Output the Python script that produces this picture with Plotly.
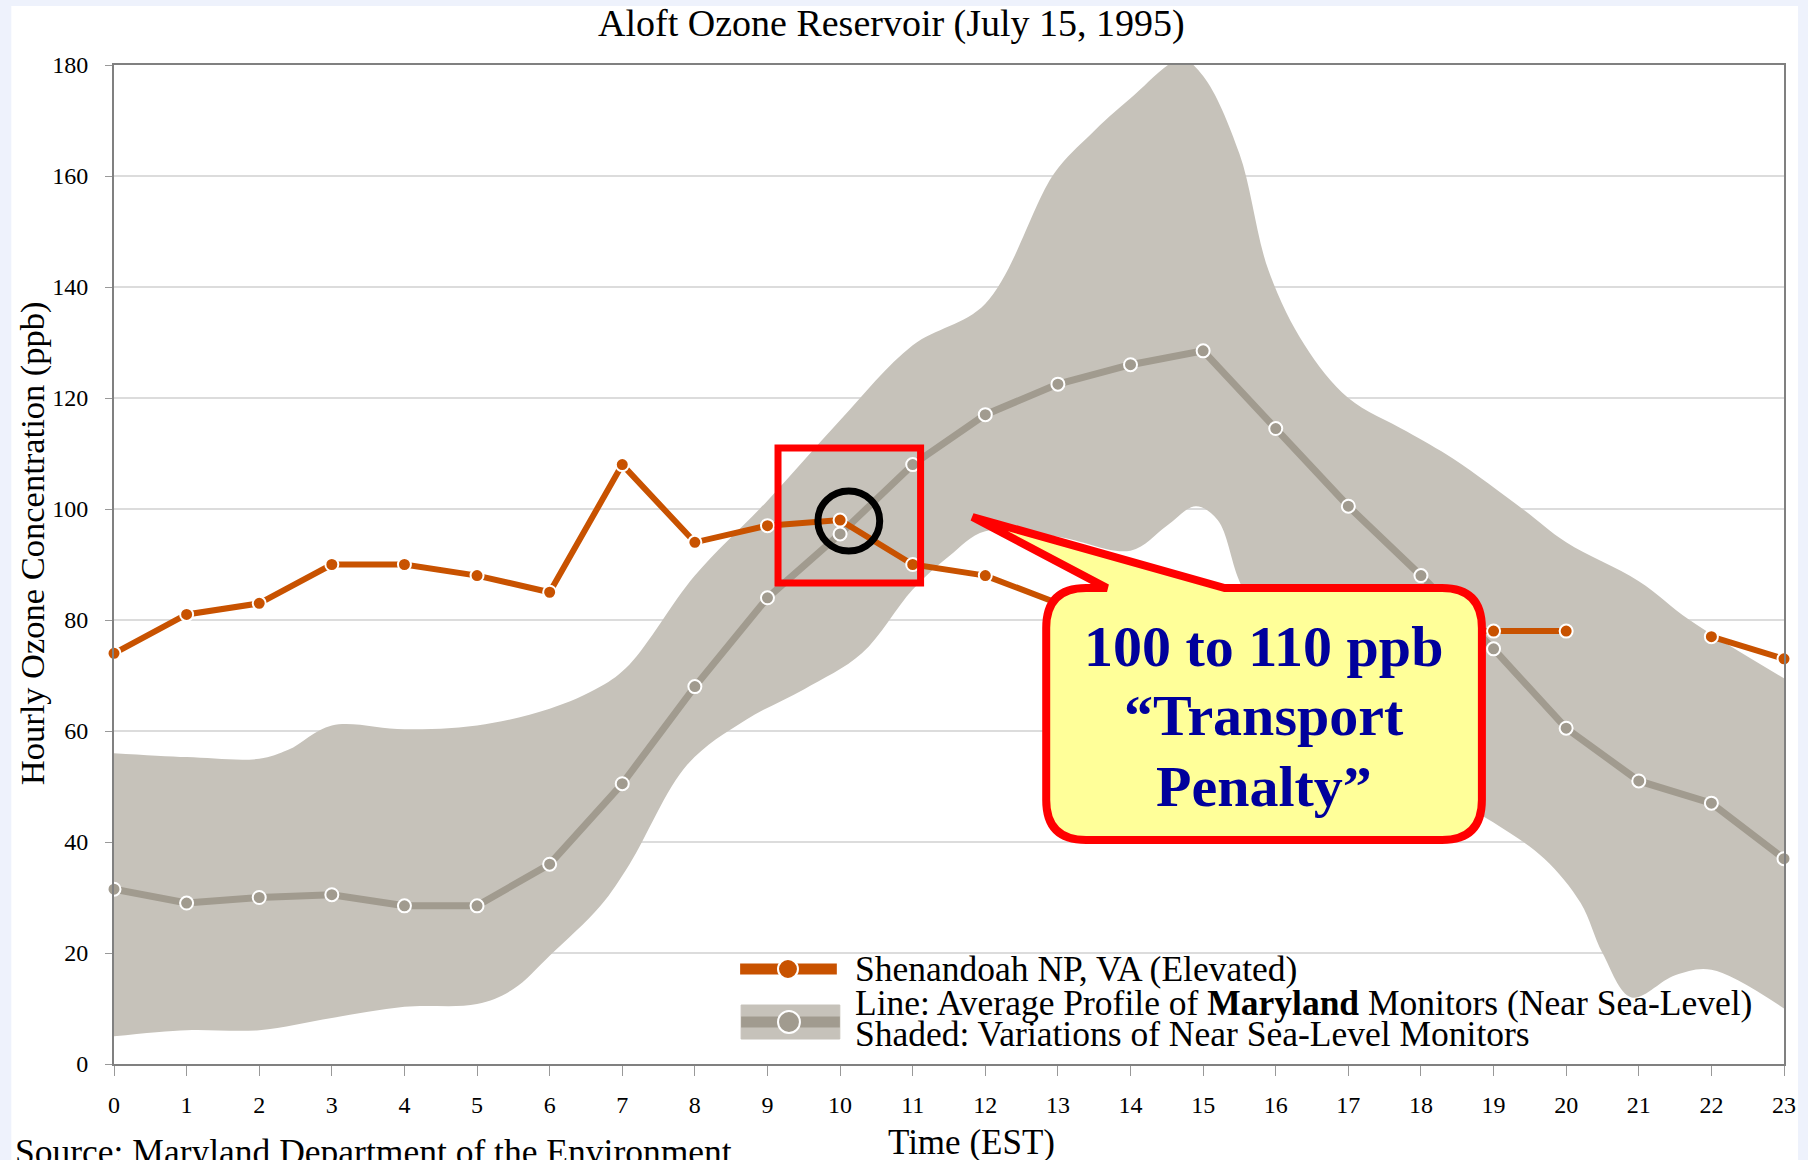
import plotly.graph_objects as go

# ---------------- data ----------------
hours = list(range(24))
tick_labels = [str(h) for h in hours]

shenandoah = [74, 81, 83, 90, 90, 88, 85, 108, 94, 97, 98, 90, 88, 83, 82, 80, 79, 78, 78,
              78, 78, None, 77, 73]

maryland_avg = [31.5, 29, 30, 30.5, 28.5, 28.5, 36, 50.5, 68, 84, 95.5, 108, 117, 122.5, 126,
                128.5, 114.5, 100.5, 88, 74.8, 60.5, 51, 47, 37]

band_upper_hours = [0, 1, 2, 2.4, 3, 4, 5, 6, 6.7, 7.1, 8, 9, 10, 11, 12, 12.95, 13.45, 14,
                    14.7, 15, 15.5, 15.9, 16.4, 17, 17.8, 18.45, 19.4, 20, 21, 21.7, 23]
band_upper = [56, 55.3, 55, 56.6, 61, 60.3, 61, 64, 68, 72, 88, 101.5, 116, 129.5, 137, 160.5,
              167.5, 174, 181, 178, 164, 143, 129.5, 120, 114, 109, 100, 94, 87, 80, 69.5]

band_lower_hours = [0, 1, 2, 3, 4, 5, 5.5, 6, 6.7, 7.1, 7.9, 8.7, 9.5, 10.3, 11, 11.5, 12, 13,
                    14, 14.5, 14.9, 15.2, 15.5, 16, 17, 18, 19, 19.7, 20.2, 20.5, 20.9, 21.5,
                    22, 23]
band_lower = [5, 6.1, 6.1, 8.3, 10.3, 10.8, 13.5, 19.5, 28.5, 36, 54, 62, 67.5, 74, 85.5, 91.5,
              96, 95, 92.5, 97, 100.5, 98, 87, 74, 61, 51, 43.5, 37, 29, 20, 12, 16, 17, 10]

# ---------------- geometry helpers (pixel -> paper) ----------------
W, H = 1808, 1160
L, R, T, B = 114, 1789, 65, 1064
PW, PH = R - L, B - T


def px(x):
    return (x - L) / PW


def py(y):
    return (B - y) / PH


ORANGE = "#C85200"
GRAYLINE = "#A19B8F"
BAND = "#C6C2BA"
LAVENDER = "#EEF2FC"
SERIF = "Liberation Serif"

fig = go.Figure()

# band (lower edge, then upper filled to it)
fig.add_trace(go.Scatter(x=band_lower_hours, y=band_lower, mode="lines",
                         line=dict(width=0, shape="spline", smoothing=1.0, color=BAND),
                         showlegend=False, hoverinfo="skip"))
fig.add_trace(go.Scatter(x=band_upper_hours, y=band_upper, mode="lines", fill="tonexty",
                         fillcolor=BAND,
                         line=dict(width=0, shape="spline", smoothing=1.0, color=BAND),
                         showlegend=False, hoverinfo="skip"))

fig.add_trace(go.Scatter(x=hours, y=maryland_avg, mode="lines+markers",
                         line=dict(color=GRAYLINE, width=7),
                         marker=dict(size=13, color=GRAYLINE, line=dict(color="white", width=2)),
                         cliponaxis=False, showlegend=False))
fig.add_trace(go.Scatter(x=hours, y=shenandoah, mode="lines+markers", connectgaps=False,
                         line=dict(color=ORANGE, width=6),
                         marker=dict(size=13, color=ORANGE, line=dict(color="white", width=2)),
                         cliponaxis=False, showlegend=False))

shapes = []
# white card behind everything
shapes.append(dict(type="rect", xref="paper", yref="paper", layer="below",
                   x0=px(11), x1=px(1803), y0=py(6), y1=py(1165),
                   fillcolor="white", line=dict(width=0)))

# red highlight box and black circle
shapes.append(dict(type="rect", xref="paper", yref="paper", layer="above",
                   x0=px(780), x1=px(923), y0=py(448), y1=py(583),
                   line=dict(color="#FF0000", width=7)))
shapes.append(dict(type="circle", xref="paper", yref="paper", layer="above",
                   x0=px(820), x1=px(882), y0=py(491), y1=py(551),
                   line=dict(color="black", width=7)))

# callout bubble
cl, cr, ct, cb, rr = 1049, 1486, 588, 840, 40
tip = (975, 517)
b1, b2 = 1110, 1228


def P(x, y):
    return f"{px(x):.5f},{py(y):.5f}"


path = (f"M {P(cl + rr, ct)} L {P(b1, ct)} L {P(*tip)} L {P(b2, ct)} L {P(cr - rr, ct)} "
        f"Q {P(cr, ct)} {P(cr, ct + rr)} L {P(cr, cb - rr)} Q {P(cr, cb)} {P(cr - rr, cb)} "
        f"L {P(cl + rr, cb)} Q {P(cl, cb)} {P(cl, cb - rr)} L {P(cl, ct + rr)} "
        f"Q {P(cl, ct)} {P(cl + rr, ct)} Z")
shapes.append(dict(type="path", xref="paper", yref="paper", layer="above", path=path,
                   fillcolor="#FFFF99", line=dict(color="#FF0000", width=8)))

# legend symbols
shapes.append(dict(type="line", xref="paper", yref="paper", layer="above",
                   x0=px(742), x1=px(839), y0=py(969), y1=py(969),
                   line=dict(color=ORANGE, width=11)))
shapes.append(dict(type="circle", xref="paper", yref="paper", layer="above",
                   x0=px(780), x1=px(800), y0=py(959), y1=py(979),
                   fillcolor=ORANGE, line=dict(color="white", width=2)))
shapes.append(dict(type="rect", xref="paper", yref="paper", layer="above",
                   x0=px(743), x1=px(842), y0=py(1005), y1=py(1039),
                   fillcolor=BAND, line=dict(color=BAND, width=1)))
shapes.append(dict(type="line", xref="paper", yref="paper", layer="above",
                   x0=px(743), x1=px(842), y0=py(1022), y1=py(1022),
                   line=dict(color=GRAYLINE, width=11)))
shapes.append(dict(type="circle", xref="paper", yref="paper", layer="above",
                   x0=px(780), x1=px(802), y0=py(1011), y1=py(1033),
                   fillcolor=GRAYLINE, line=dict(color="white", width=2)))

annotations = []


def ann(text, x, y, size, xanchor="left", yanchor="middle", color="black", textangle=0):
    annotations.append(dict(text=text, x=px(x), y=py(y), xref="paper", yref="paper",
                            xanchor=xanchor, yanchor=yanchor, showarrow=False,
                            textangle=textangle,
                            font=dict(family=SERIF, size=size, color=color)))


ann("Aloft Ozone Reservoir (July 15, 1995)", 894, 24, 38, xanchor="center")
ann("Hourly Ozone Concentration (ppb)", 32, 543, 34.5, xanchor="center", textangle=-90)
ann("Time (EST)", 974, 1143, 35, xanchor="center")
ann("Source: Maryland Department of the Environment", 13, 1152, 35.5)

ann("Shenandoah NP, VA (Elevated)", 855, 969, 35.5)
ann("Line: Average Profile of <b>Maryland</b> Monitors (Near Sea-Level)", 855, 1003, 35.5)
ann("Shaded: Variations of Near Sea-Level Monitors", 855, 1034, 35.5)

BLUE = "#00009C"
ann("<b>100 to 110 ppb</b>", 1267, 646, 58, xanchor="center", color=BLUE)
ann("<b>“Transport</b>", 1267, 715, 58, xanchor="center", color=BLUE)
ann("<b>Penalty”</b>", 1267, 786, 58, xanchor="center", color=BLUE)

fig.update_layout(
    width=W, height=H,
    margin=dict(l=L, r=W - R, t=T, b=H - B, pad=0),
    paper_bgcolor=LAVENDER, plot_bgcolor="white",
    shapes=shapes, annotations=annotations,
    showlegend=False,
    xaxis=dict(range=[0, 23], tickmode="array", tickvals=hours, ticktext=tick_labels,
               ticks="outside", ticklen=10, tickwidth=1, tickcolor="#999999",
               showline=True, linecolor="#808080", linewidth=2, mirror=True,
               showgrid=False, zeroline=False, ticklabelstandoff=8,
               tickfont=dict(family=SERIF, size=24, color="black")),
    yaxis=dict(range=[0, 180], tickmode="linear", tick0=0, dtick=20,
               ticks="outside", ticklen=7, tickwidth=1, tickcolor="#999999",
               showline=True, linecolor="#808080", linewidth=2, mirror=True,
               showgrid=True, gridcolor="#DCDCDC", gridwidth=2, zeroline=False,
               ticklabelstandoff=12,
               tickfont=dict(family=SERIF, size=24, color="black")),
)

fig.write_html("out.html", config={"displayModeBar": False},
               post_script="document.body.style.margin='0';"
                           "document.body.style.background='" + LAVENDER + "';")
